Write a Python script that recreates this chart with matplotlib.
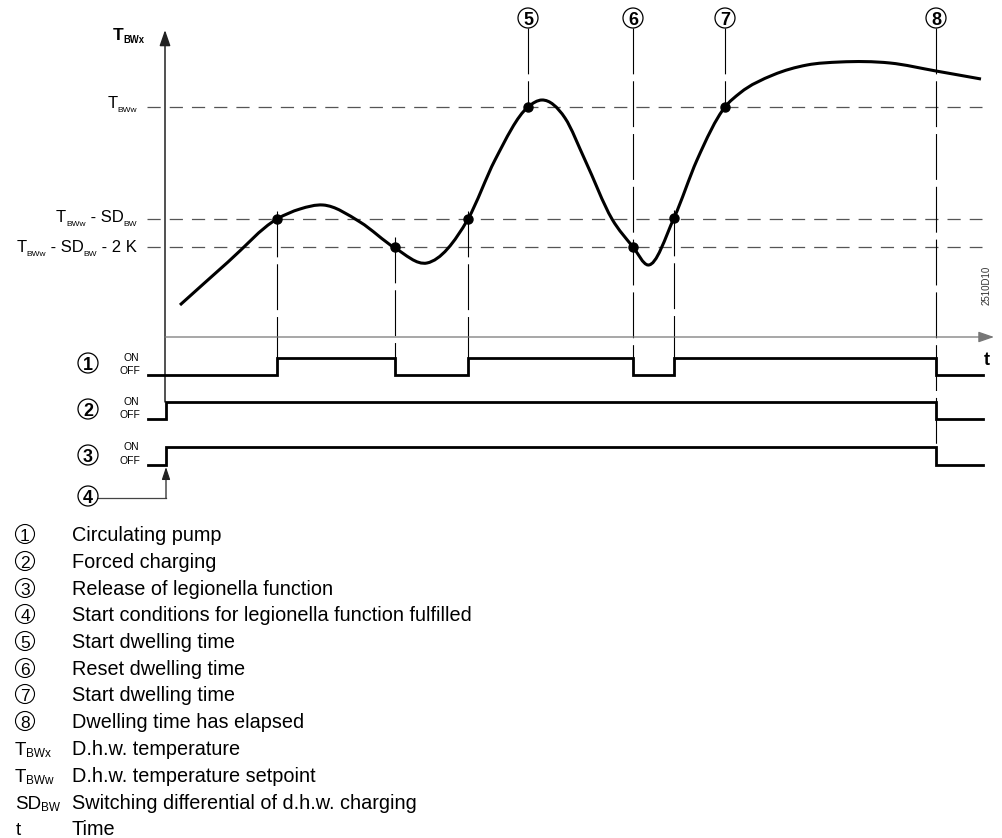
import matplotlib
matplotlib.use('Agg')
import matplotlib.pyplot as plt
from matplotlib.patches import Circle, PathPatch
from matplotlib.path import Path

plt.rcParams['font.family'] = ['Liberation Sans', 'DejaVu Sans']
plt.rcParams['lines.scale_dashes'] = False

# --- data (diagram units: x = time, y = screen position of the temperature) ---
curve_t = [180, 228, 277, 300, 323, 360, 395, 427, 468, 495, 528, 542, 565,
           585, 612, 633, 648, 674, 697, 725, 740, 773, 807, 840, 890, 936, 981]
curve_T = [305, 262, 219, 209, 205, 222, 248, 263, 219, 160, 107, 100, 118,
           160, 219, 247, 265, 218, 160, 107, 93, 75, 65, 62, 63, 71, 79]

level_y = [107, 219, 247]          # T_BWw, T_BWw-SD_BW, T_BWw-SD_BW-2K
cross_t = [277, 395, 468, 528, 633, 674, 725]
cross_T = [219, 247, 219, 107, 247, 218, 107]

# switching signals: times of changes and states (1 = ON)
sig_rows = [1, 2, 3]
sig_times = [[148, 277, 395, 468, 633, 674, 936, 983],
             [148, 166, 936, 983],
             [148, 166, 936, 983]]
sig_states = [[0, 1, 0, 1, 0, 1, 0, 0],
              [0, 1, 0, 0],
              [0, 1, 0, 0]]
sig_on = [358, 402, 447]
sig_off = [375, 419, 465]
sig_label_y = [363, 409, 455]

# event markers on top
top_ids = [5, 6, 7, 8]
top_t = [528, 633, 725, 936]
top_end = [107, 375, 107, 465]
# switching instants without top marker
sw_t = [277, 395, 468, 674]
sw_start = [211, 237, 211, 210]

leg_keys = ['1', '2', '3', '4', '5', '6', '7', '8',
            [('T', 0), ('BWx', 1)], [('T', 0), ('BWw', 1)], [('SD', 0), ('BW', 1)], 't']
leg_text = ['Circulating pump', 'Forced charging', 'Release of legionella function',
            'Start conditions for legionella function fulfilled', 'Start dwelling time',
            'Reset dwelling time', 'Start dwelling time', 'Dwelling time has elapsed',
            'D.h.w. temperature', 'D.h.w. temperature setpoint',
            'Switching differential of d.h.w. charging', 'Time']
leg_y = [534, 561, 588, 614, 641, 668, 694, 721, 748, 775, 802, 828]

fig = plt.figure(figsize=(10.03, 8.38), dpi=100)
ax = fig.add_axes([0, 0, 1, 1])
ax.set_xlim(0, 1003)
ax.set_ylim(838, 0)
ax.axis('off')


def rich(x, y, parts, size, ha='left', weight='normal', ratio=0.55, drop=0.22, color='k'):
    seq = parts if ha == 'left' else parts[::-1]
    prev = None
    for txt, sub in seq:
        fs = size * ratio if sub else size
        dy = -drop * size if sub else 0
        if prev is None:
            xy, xyc = (x, y), 'data'
        else:
            xy, xyc = (1 if ha == 'left' else 0, y), (prev, 'data')
        prev = ax.annotate(txt, xy=xy, xycoords=xyc, xytext=(0, dy), textcoords='offset points',
                           ha=ha, va='baseline', fontsize=fs, fontweight=weight, color=color)


def circled(x, y, n, r, bold=True, lw=1.0, fs=12):
    ax.add_patch(Circle((x, y), r, facecolor='white', edgecolor='k', lw=lw, zorder=5))
    ax.text(x, y + 0.5, str(n), ha='center', va='center_baseline', fontsize=fs,
            fontweight='bold' if bold else 'normal', zorder=6)


def smooth_path(xs, ys):
    # cubic Hermite through the read points, drawn as Bezier segments
    n = len(xs)
    h = [xs[i + 1] - xs[i] for i in range(n - 1)]
    s = [(ys[i + 1] - ys[i]) / h[i] for i in range(n - 1)]
    m = [s[0]]
    for i in range(1, n - 1):
        m.append((h[i - 1] * s[i] + h[i] * s[i - 1]) / (h[i - 1] + h[i]))
    m.append(s[-1])
    verts = [(xs[0], ys[0])]
    codes = [Path.MOVETO]
    for i in range(n - 1):
        d = h[i] / 3
        verts += [(xs[i] + d, ys[i] + m[i] * d), (xs[i + 1] - d, ys[i + 1] - m[i + 1] * d),
                  (xs[i + 1], ys[i + 1])]
        codes += [Path.CURVE4] * 3
    return Path(verts, codes)


# axes
ax.annotate('', xy=(165, 30), xytext=(165, 402),
            arrowprops=dict(arrowstyle='-|>,head_length=0.95,head_width=0.33',
                            color='#222222', lw=1.1, shrinkA=0, shrinkB=0))
ax.annotate('', xy=(994, 337), xytext=(165, 337),
            arrowprops=dict(arrowstyle='-|>,head_length=0.95,head_width=0.33',
                            color='#777777', lw=0.9, shrinkA=0, shrinkB=0))
ax.text(987, 358, 't', ha='center', va='center_baseline', fontsize=13, fontweight='bold')
rich(113, 40, [('T', 0), ('BWx', 1)], 12.5, weight='bold', ratio=0.55, drop=0.18)

# levels
for yl in level_y:
    ax.plot([147, 982], [yl, yl], color='#555555', lw=0.9, ls=(0, (9.5, 6.5)))
rich(137, 108, [('T', 0), ('BWw', 1)], 12, ha='right', ratio=0.5)
rich(137, 222, [('T', 0), ('BWw', 1), (' - SD', 0), ('BW', 1)], 12, ha='right', ratio=0.5)
rich(137, 252, [('T', 0), ('BWw', 1), (' - SD', 0), ('BW', 1), (' - 2 K', 0)], 12,
     ha='right', ratio=0.5)

# curve
ax.add_patch(PathPatch(smooth_path(curve_t, curve_T), fill=False, lw=2.2, edgecolor='k',
                       capstyle='butt', zorder=4))
ax.plot(cross_t, cross_T, 'o', color='k', ms=6.5, zorder=5)

# vertical event lines
for x0, y0 in zip(sw_t, sw_start):
    ax.plot([x0, x0], [y0, 375], color='k', lw=0.8, ls=(0, (33, 5)), zorder=2)
for n, x0, y1 in zip(top_ids, top_t, top_end):
    ax.plot([x0, x0], [28, y1], color='k', lw=0.8, ls=(0, (33, 5)), zorder=2)
    circled(x0, 18, n, 10, bold=True, lw=0.9, fs=13)

# signals
for row, ts, st, on, off, ly in zip(sig_rows, sig_times, sig_states, sig_on, sig_off, sig_label_y):
    ys = [on if s else off for s in st]
    ax.plot(ts, ys, drawstyle='steps-post', color='k', lw=2.0, solid_joinstyle='miter', zorder=4)
    ax.text(131, on + 3, 'ON', ha='center', va='baseline', fontsize=7.5)
    ax.text(130, off - 1, 'OFF', ha='center', va='baseline', fontsize=7.5)
    circled(88, ly, row, 10, bold=True, lw=0.9, fs=13)

# start conditions arrow (4)
circled(88, 496, 4, 10, bold=True, lw=0.9, fs=13)
ax.plot([98, 166], [498, 498], color='#444444', lw=0.9)
ax.annotate('', xy=(166, 467), xytext=(166, 498),
            arrowprops=dict(arrowstyle='-|>,head_length=0.75,head_width=0.25',
                            color='#222222', lw=0.9, shrinkA=0, shrinkB=0))

ax.text(987, 285, '2510D10', rotation=90, ha='center', va='center', fontsize=7, color='#333333')

# legend
for key, desc, yy in zip(leg_keys, leg_text, leg_y):
    if isinstance(key, list):
        rich(15, yy + 7, key, 13.5, ratio=0.63, drop=0.12)
    elif key == 't':
        ax.text(16, yy + 7, 't', ha='left', va='baseline', fontsize=13.5)
    else:
        circled(25, yy, key, 9.5, bold=False, lw=0.8, fs=12.5)
    ax.text(72, yy + 7, desc, ha='left', va='baseline', fontsize=14.3)

fig.savefig('out.png', dpi=100)
